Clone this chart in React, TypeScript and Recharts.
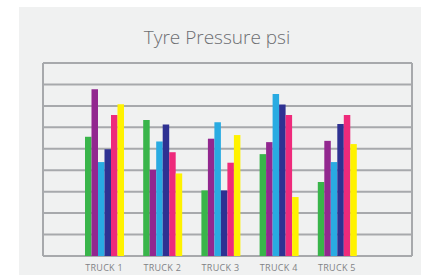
import React from "react";
import { BarChart, Bar, XAxis, YAxis, CartesianGrid } from "recharts";

const trucks = ["TRUCK 1", "TRUCK 2", "TRUCK 3", "TRUCK 4", "TRUCK 5"];
const green = [5.56, 6.34, 3.06, 4.75, 3.45];
const purple = [7.78, 4.02, 5.47, 5.31, 5.37];
const cyan = [4.38, 5.34, 6.24, 7.56, 4.38];
const navy = [4.98, 6.13, 3.06, 7.07, 6.15];
const pink = [6.58, 4.84, 4.35, 6.58, 6.58];
const yellow = [7.08, 3.85, 5.64, 2.75, 5.22];
const yTicks = [0, 1, 2, 3, 4, 5, 6, 7, 8, 9];

const series = [
  { key: "green", values: green, color: "#39b54a" },
  { key: "purple", values: purple, color: "#92278f" },
  { key: "cyan", values: cyan, color: "#29abe2" },
  { key: "navy", values: navy, color: "#2e3192" },
  { key: "pink", values: pink, color: "#ee2a7b" },
  { key: "yellow", values: yellow, color: "#fff200" },
];

const data = trucks.map((name, i) => {
  const row: Record<string, string | number> = { name };
  series.forEach((s) => (row[s.key] = s.values[i]));
  return row;
});

const App = () => {
  return (
    <div style={{ position: "absolute", left: 0, top: 0, width: 421, height: 275, background: "#fff" }}>
      <div style={{ position: "absolute", left: 19, top: 7, width: 402, height: 268, background: "#f0f1f1" }}>
        <div
          style={{
            position: "absolute",
            left: 0,
            width: 396,
            top: 17,
            textAlign: "center",
            fontFamily: "'Open Sans', sans-serif",
            fontWeight: 300,
            fontSize: 19,
            color: "#6d6e71",
          }}
        >
          Tyre Pressure psi
        </div>
        <BarChart
          width={402}
          height={268}
          data={data}
          margin={{ top: 56, right: 9, left: 24, bottom: 0 }}
          barGap={0}
          barSize={6.5}
        >
          <CartesianGrid
            stroke="#a7a9ac"
            strokeWidth={2}
            verticalCoordinatesGenerator={({ offset }: any) => [offset.left, offset.left + offset.width]}
          />
          <XAxis
            dataKey="name"
            axisLine={false}
            tickLine={false}
            height={19}
            padding={{ left: 32, right: 46 }}
            tick={{ fontSize: 9, fill: "#808285", fontFamily: "'Open Sans', sans-serif", letterSpacing: 0.3 }}
            dy={1}
            interval={0}
          />
          <YAxis hide domain={[0, 9]} ticks={yTicks} interval={0} />
          {series.map((s) => (
            <Bar key={s.key} dataKey={s.key} fill={s.color} isAnimationActive={false} />
          ))}
        </BarChart>
      </div>
    </div>
  );
};

export default App;
